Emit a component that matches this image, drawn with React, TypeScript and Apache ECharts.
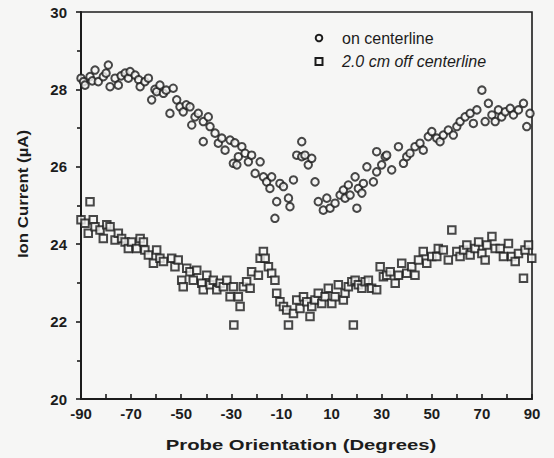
import React, { useEffect, useRef } from 'react';
import * as echarts from 'echarts';

const xTickLabels = [-90, -70, -50, -30, -10, 10, 30, 50, 70, 90];
const seriesNames = ['on centerline', '2.0 cm off centerline'];
const xTitle = 'Probe Orientation (Degrees)';
const yTitle = 'Ion Current (\u00b5A)';

const onCenterline: [number, number][] = [
  [-90, 28.29], [-89, 28.2], [-88.4, 28.11], [-86.4, 28.33], [-85.5, 28.22], [-84.4, 28.5], [-83.1, 28.2],
  [-81.1, 28.33], [-80, 28.42], [-79.1, 28.63], [-78.4, 28.07], [-76.4, 28.29], [-75.1, 28.11], [-74, 28.35],
  [-72.4, 28.42], [-71.1, 28.29], [-70.4, 28.46], [-68.4, 28.37], [-67, 28.25], [-66.4, 28.07], [-64.5, 28.2],
  [-63.1, 28.29], [-61.8, 27.73], [-60.5, 28.0], [-59.8, 27.94], [-58.5, 28.11], [-57.1, 27.9], [-56, 27.98],
  [-54.5, 27.38], [-53.2, 28.03], [-51.8, 27.73], [-50.5, 27.55], [-49.2, 27.42], [-48, 27.6], [-46.5, 27.55],
  [-45.8, 27.08], [-44.5, 27.29], [-43.2, 27.38], [-41.2, 26.65], [-41.2, 27.17], [-39.2, 27.29], [-38.5, 27.04],
  [-36.5, 26.87], [-35.2, 26.61], [-33.8, 26.74], [-32.5, 26.43], [-30.5, 26.69], [-29.2, 26.09], [-28.6, 26.62],
  [-27.8, 26.05], [-27.2, 26.26], [-25.8, 26.52], [-24.5, 26.35], [-23.2, 26.13], [-21.9, 26.3], [-20.5, 25.83],
  [-18.5, 26.13], [-17.2, 25.74], [-15.9, 25.61], [-14.6, 25.44], [-13.9, 25.74], [-12.6, 24.67], [-11.9, 25.1],
  [-10.6, 25.57], [-9.2, 25.49], [-7.2, 25.19], [-6.6, 24.97], [-5.2, 25.66], [-3.9, 26.3], [-1.9, 26.65],
  [-1.9, 26.26], [-0.6, 26.3], [0.7, 26.05], [2.1, 26.22], [3.4, 25.61], [4.7, 25.1], [6.7, 24.88], [8.1, 25.19],
  [9.4, 24.93], [11.4, 25.06], [13.4, 25.27], [14.7, 25.4], [15.4, 25.19], [16.7, 25.53], [17.4, 25.27],
  [19.4, 25.74], [20.1, 24.93], [20.7, 25.44], [22.1, 25.32], [22.7, 25.57], [24.1, 26.0], [26.7, 25.61],
  [28.0, 26.39], [28.0, 25.87], [30.0, 26.05], [31.4, 26.26], [32.0, 26.3], [34.0, 25.92], [36.7, 26.52],
  [38.7, 26.09], [40.0, 26.26], [41.3, 26.35], [43.3, 26.52], [45.3, 26.61], [46.6, 26.43], [48.6, 26.78],
  [50.0, 26.91], [52.0, 26.74], [53.3, 26.65], [54.6, 26.82], [56.6, 26.95], [58.6, 26.82], [60.0, 27.04],
  [61.3, 27.17], [63.3, 27.29], [65.3, 27.38], [66.6, 27.12], [68.0, 27.47], [70.0, 27.98], [71.3, 27.17],
  [72.6, 27.64], [74.0, 27.34], [75.3, 27.17], [76.6, 27.47], [77.9, 27.29], [79.3, 27.42], [81.3, 27.51],
  [82.6, 27.34], [84.6, 27.47], [86.6, 27.64], [87.9, 27.04], [89.2, 27.38],
];

const offCenterline: [number, number][] = [
  [-90, 24.63], [-88.4, 24.54], [-87.1, 24.28], [-86.4, 25.1], [-85.1, 24.63], [-84.4, 24.45], [-82.4, 24.37],
  [-81.1, 24.15], [-79.7, 24.5], [-78.4, 24.45], [-76.4, 24.11], [-75.1, 24.28], [-73.8, 24.15], [-72.4, 24.06],
  [-71.1, 23.89], [-69.8, 24.06], [-67.8, 23.89], [-66.4, 24.15], [-65.1, 24.06], [-64.5, 23.85], [-63.1, 23.72],
  [-61.1, 23.51], [-59.8, 23.85], [-58.5, 23.64], [-57.1, 23.55], [-53.8, 23.64], [-52.5, 23.42], [-51.2, 23.59],
  [-49.8, 23.07], [-49.2, 22.9], [-47.8, 23.38], [-46.5, 23.29], [-45.2, 23.07], [-43.8, 23.33], [-41.8, 22.99],
  [-41.2, 22.82], [-39.8, 23.2], [-38.5, 22.95], [-37.2, 23.07], [-35.8, 22.82], [-34.5, 22.99], [-33.2, 22.9],
  [-31.8, 23.07], [-30.5, 22.64], [-29, 21.91], [-29.2, 22.9], [-27.2, 22.64], [-26.5, 22.39], [-25.2, 22.9],
  [-23.9, 23.03], [-22.5, 22.86], [-21.9, 23.29], [-19.2, 23.2], [-18.5, 23.64], [-17.2, 23.81], [-16.5, 23.64],
  [-15.2, 23.42], [-13.9, 23.25], [-12.6, 23.07], [-11.9, 22.73], [-10.6, 22.51], [-9.2, 22.39], [-7.9, 22.3],
  [-7.2, 21.91], [-5.2, 22.21], [-3.9, 22.56], [-2.6, 22.34], [-1.2, 22.64], [0.1, 22.51], [1.4, 22.13],
  [2.1, 22.39], [3.4, 22.56], [4.7, 22.73], [6.1, 22.47], [7.4, 22.64], [8.7, 22.86], [10.1, 22.47], [11.4, 22.64],
  [12.7, 22.95], [14.7, 22.56], [15.4, 22.73], [16.7, 22.9], [18.1, 23.03], [18.7, 21.91], [19.4, 23.07],
  [20.7, 22.95], [22.1, 22.86], [23.4, 23.03], [24.7, 23.07], [26.0, 22.86], [28.0, 22.82], [29.4, 23.42],
  [30.7, 23.16], [32.0, 23.2], [33.4, 23.29], [35.4, 22.99], [36.7, 23.2], [38.0, 23.51], [40.0, 23.25],
  [42.0, 23.42], [43.3, 23.2], [44.7, 23.59], [46.6, 23.81], [48.0, 23.51], [50.0, 23.68], [52.0, 23.68],
  [52.6, 23.89], [54.6, 23.85], [56.6, 23.59], [58.0, 24.37], [60.0, 23.81], [61.3, 23.68], [62.7, 23.85],
  [64.0, 23.98], [65.3, 23.72], [67.3, 23.89], [68.7, 24.06], [70.0, 23.76], [71.3, 23.59], [72.0, 23.98],
  [74.0, 24.2], [75.3, 23.89], [77.3, 23.89], [78.6, 23.68], [80.6, 24.02], [81.9, 23.68], [83.3, 23.55],
  [84.6, 23.76], [86.6, 23.12], [87.2, 23.85], [88.6, 23.98], [89.9, 23.64],
];

export default function App() {
  const ref = useRef<HTMLDivElement>(null);
  useEffect(() => {
    document.body.style.margin = '0';
    const chart = echarts.init(ref.current!, null, { renderer: 'svg' });
    const font = '"Liberation Sans", Arial, sans-serif';
    const ink = '#1c1c1c';
    const bg = '#f6f6f5';
    const markStyle = { color: bg, borderColor: ink, borderWidth: 2 };
    chart.setOption({
      animation: false,
      backgroundColor: bg,
      grid: {
        left: 81, right: 22, top: 12, bottom: 59,
        show: true, borderColor: ink, borderWidth: 1.6, backgroundColor: 'transparent',
      },
      xAxis: {
        type: 'value', min: -90, max: 90, interval: 10,
        axisLine: { onZero: false, lineStyle: { color: ink, width: 2 } },
        axisTick: { inside: true, length: 5, lineStyle: { color: ink, width: 1.6 } },
        axisLabel: {
          formatter: (v: number) => (xTickLabels.includes(v) ? String(v) : ''),
          fontFamily: font, fontWeight: 'bold', fontSize: 15, color: ink, margin: 7,
        },
        splitLine: { show: false },
      },
      yAxis: {
        type: 'value', min: 20, max: 30, interval: 2,
        axisLine: { onZero: false, lineStyle: { color: ink, width: 2 } },
        axisTick: { length: 5, lineStyle: { color: ink, width: 1.6 } },
        minorTick: { show: true, splitNumber: 2, length: 4, lineStyle: { color: ink, width: 1.6 } },
        axisLabel: { fontFamily: font, fontWeight: 'bold', fontSize: 15, color: ink, margin: 14 },
        splitLine: { show: false },
        minorSplitLine: { show: false },
      },
      series: [
        {
          name: seriesNames[0], type: 'scatter', data: onCenterline,
          symbol: 'circle', symbolSize: 7.5, itemStyle: markStyle,
        },
        {
          name: seriesNames[1], type: 'scatter', data: offCenterline,
          symbol: 'rect', symbolSize: 7.5, itemStyle: markStyle,
        },
      ],
      graphic: [
        {
          type: 'circle', shape: { cx: 319, cy: 38, r: 3.3 },
          style: { fill: bg, stroke: ink, lineWidth: 2 },
        },
        {
          type: 'rect', shape: { x: 315.5, y: 58, width: 7, height: 7 },
          style: { fill: bg, stroke: ink, lineWidth: 2 },
        },
        {
          type: 'text', x: 342, y: 38,
          style: { text: seriesNames[0], fontFamily: font, fontSize: 16, fill: ink, verticalAlign: 'middle' },
        },
        {
          type: 'text', x: 342, y: 61.5,
          style: { text: seriesNames[1], fontFamily: font, fontSize: 16, fontStyle: 'italic', fill: ink, verticalAlign: 'middle' },
        },
        {
          type: 'text', x: 301, y: 445, scaleX: 1.45,
          style: { text: xTitle, fontFamily: font, fontSize: 14, fontWeight: 'bold', fill: ink, align: 'center', verticalAlign: 'middle' },
        },
        {
          type: 'text', x: 23, y: 194, rotation: Math.PI / 2, scaleX: 1.2,
          style: { text: yTitle, fontFamily: font, fontSize: 14, fontWeight: 'bold', fill: ink, align: 'center', verticalAlign: 'middle' },
        },
      ],
    });
    return () => chart.dispose();
  }, []);
  return <div ref={ref} style={{ width: 554, height: 458, position: 'fixed', left: 0, top: 0 }} />;
}
